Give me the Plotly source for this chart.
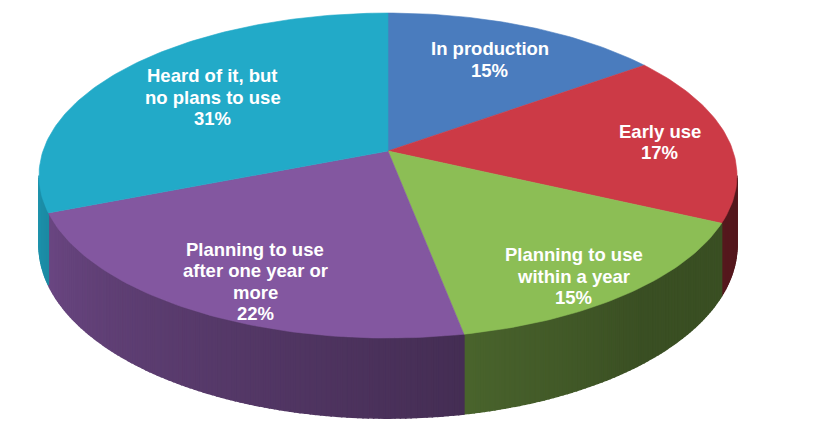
import numpy as np
import plotly.graph_objects as go

# data
categories = ["In production", "Early use", "Planning to use within a year",
              "Planning to use after one year or more",
              "Heard of it, but no plans to use"]
label_lines = [["In production"], ["Early use"],
               ["Planning to use", "within a year"],
               ["Planning to use", "after one year or", "more"],
               ["Heard of it, but", "no plans to use"]]
shares = [15, 17, 15, 22, 31]

# colours (top face) and label placement (radius fraction, vertical nudge)
top_colors = ["#4a7cbe", "#cc3a46", "#8cbe55", "#8357a0", "#22aac8"]
label_r = [0.71, 0.80, 0.795, 0.723, 0.647]
label_dy = [0, 3, 15, 19, 1]
LINE_GAP = 21.5

# projection of the tilted disc (pixel space)
CX, CY = 388, 151
A, B = 345, 158.8
P = 0.151          # perspective strength
DEPTH = 68         # thickness of the pie


def project(theta, r=1.0):
    X = r * np.sin(theta)
    Y = -r * np.cos(theta)
    w = 1 - P * Y
    return CX + A * X / w, CY + B * Y / w, w


def shade(hex_color, f):
    h = hex_color.lstrip("#")
    rgb = [int(h[i:i + 2], 16) for i in (0, 2, 4)]
    return "rgb(%d,%d,%d)" % tuple(int(c * f) for c in rgb)


fig = go.Figure()

fracs = np.array(shares, dtype=float) / sum(shares)
edges = np.concatenate([[0], np.cumsum(fracs)]) * 2 * np.pi

# the visible wall runs between the left and right silhouette points
th_right = np.arccos(-P)
th_left = 2 * np.pi - th_right

# walls first
for i in range(len(shares)):
    a0 = max(edges[i], th_right)
    a1 = min(edges[i + 1], th_left)
    if a1 <= a0:
        continue
    n = max(2, int(np.degrees(a1 - a0) / 0.75) + 1)
    ts = np.linspace(a0, a1, n)
    for k in range(n - 1):
        seg = np.linspace(ts[k], ts[k + 1], 3)
        x, y, w = project(seg)
        yb = y + DEPTH / w
        xs = np.concatenate([x, x[::-1], x[:1]])
        ys = np.concatenate([y, yb[::-1], y[:1]])
        mid = np.degrees((ts[k] + ts[k + 1]) / 2)
        f = 0.42 + 0.44 * np.clip((mid - 140) / (np.degrees(th_left) - 140), 0, 1)
        c = shade(top_colors[i], f)
        fig.add_trace(go.Scatter(x=xs, y=ys, mode="lines", fill="toself",
                                 fillcolor=c, line=dict(color=c, width=1.5),
                                 hoverinfo="skip", showlegend=False))

# top faces
for i in range(len(shares)):
    n = max(3, int(np.degrees(edges[i + 1] - edges[i])) + 1)
    ts = np.linspace(edges[i], edges[i + 1], n)
    x, y, _ = project(ts)
    xs = np.concatenate([[CX], x, [CX]])
    ys = np.concatenate([[CY], y, [CY]])
    fig.add_trace(go.Scatter(x=xs, y=ys, mode="lines", fill="toself",
                             fillcolor=top_colors[i],
                             line=dict(color=top_colors[i], width=0.6),
                             name=categories[i], hoverinfo="name",
                             showlegend=False))

# labels, one annotation per line to keep the tight leading
for i in range(len(shares)):
    mid = (edges[i] + edges[i + 1]) / 2
    lx, ly, _ = project(mid, label_r[i])
    lines = label_lines[i] + ["%d%%" % shares[i]]
    top = ly + label_dy[i] - LINE_GAP * (len(lines) - 1) / 2
    for j, txt in enumerate(lines):
        fig.add_annotation(x=lx, y=top + j * LINE_GAP, xref="x", yref="y",
                           text="<b>%s</b>" % txt, showarrow=False,
                           xanchor="center", yanchor="middle",
                           font=dict(family="Liberation Sans, Arial, sans-serif",
                                     size=18.5, color="white"))

# page body has an 8px margin, so shift the window by that much
fig.update_xaxes(range=[8, 848], visible=False, fixedrange=True)
fig.update_yaxes(range=[442, 8], visible=False, fixedrange=True)
fig.update_layout(width=840, height=434, autosize=False,
                  margin=dict(l=0, r=0, t=0, b=0),
                  paper_bgcolor="white", plot_bgcolor="white")

fig.write_html("out.html")
